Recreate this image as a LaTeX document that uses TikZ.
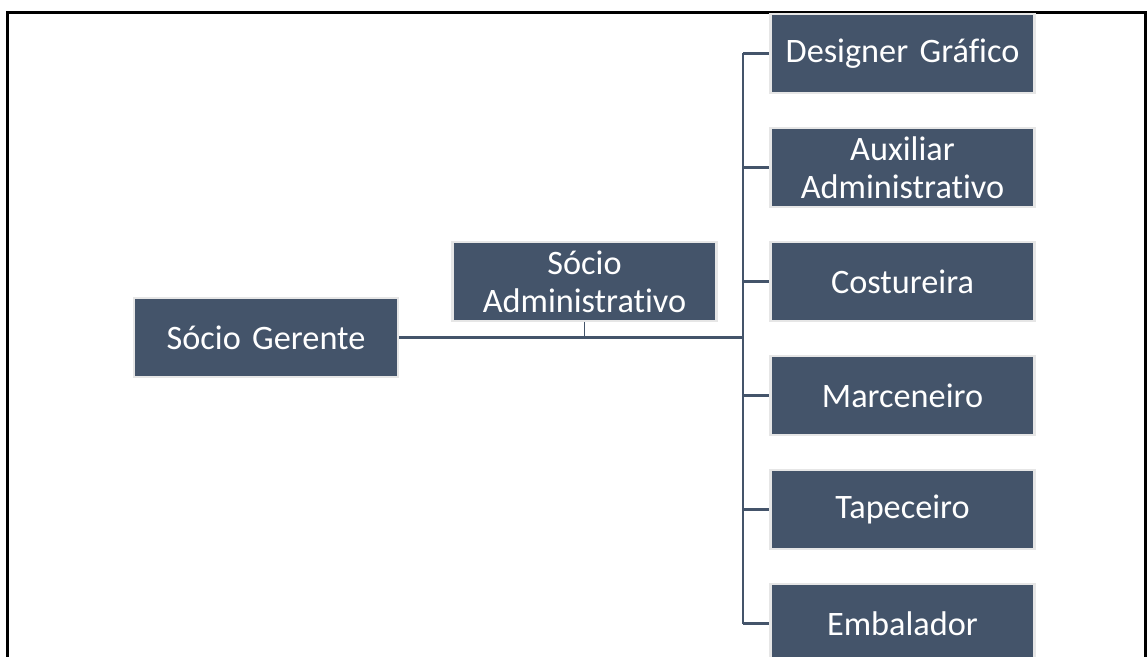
\documentclass[tikz,border=0pt]{standalone}
\usepackage{fontspec}
\setmainfont{Carlito}[Ligatures=NoCommon]
\usetikzlibrary{positioning}
\definecolor{boxblue}{HTML}{44546A}
\definecolor{boxrim}{HTML}{E6E6E6}
\tikzset{node distance=2.28cm, % Centre-to-centre distance in the right column.
role/.style={ % Sets the properties for each box
rectangle,
fill=boxblue,
draw=boxrim, line width=1.2pt,
minimum width=5.28cm, minimum height=1.58cm,
text width=5.1cm, align=center, inner sep=0pt,
text=white, font=\fontsize{19.5}{21.5}\selectfont},
link/.style={ % Sets the properties for each connector
draw=boxblue, line width=1.5pt}}

\begin{document}
\begin{tikzpicture}
    
    \useasboundingbox (0,0) rectangle (22.94,-13.14);
    \draw[line width=1.4pt] (0.15,-13.2) -- (0.15,-0.25) -- (22.91,-0.25) -- (22.91,-13.2);
    
    \node[role] (gerente) at (5.32,-6.75) {Sócio Gerente};
    \node[role] (socioadm) at (11.69,-5.63) {Sócio\\Administrativo};
    \node[role] (designer) at (18.05,-1.07) {Designer Gráfico};
    \node[role, below of=designer] (auxiliar) {Auxiliar\\Administrativo};
    \node[role, below of=auxiliar] (costureira) {Costureira};
    \node[role, below of=costureira] (marceneiro) {Marceneiro};
    \node[role, below of=marceneiro] (tapeceiro) {Tapeceiro};
    \node[role, below of=tapeceiro] (embalador) {Embalador};
    \coordinate (junc) at (14.86,-6.75);
    
    \draw[link, line width=1.9pt] (gerente) -- (junc);
    \draw[link, line width=1pt] (socioadm) -- (socioadm |- junc);
    \draw[link] (junc |- designer) -- (junc |- embalador);
    \foreach \n in {designer, auxiliar, costureira, marceneiro, tapeceiro, embalador}
        \draw[link] (junc |- \n) -- (\n);
    
\end{tikzpicture}
\end{document}
